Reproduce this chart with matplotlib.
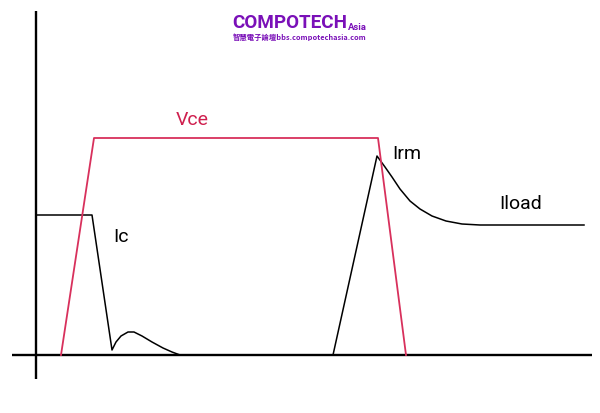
import matplotlib
matplotlib.use("Agg")
import matplotlib.pyplot as plt

# Waveform points (pixel-space units: x right, y down)
vce_x = [61, 94, 378, 406]
vce_y = [356, 139, 139, 356]

ic_x = [36, 92, 112, 116, 121, 128, 134, 142, 152, 163, 172, 180]
ic_y = [216, 216, 351, 343, 337, 333, 333, 337, 343, 349, 353, 356]

irm_x = [333, 377, 385, 392, 400, 410, 420, 432, 446, 462, 480, 584]
irm_y = [356, 157, 168, 178, 190, 202, 210, 217, 222, 225, 226, 226]

labels = ["Vce", "Ic", "Irm", "Iload"]
label_x = [192, 121, 407, 521]
label_y = [120, 237, 154, 204]
label_colors = ["#cf1f4e", "black", "black", "black"]

RED = "#d8305c"

fig = plt.figure(figsize=(6.0, 4.14), dpi=100)
ax = fig.add_axes([0, 0, 1, 1])
ax.set_xlim(0, 600)
ax.set_ylim(414, 0)
ax.axis("off")

label_font = ["Roboto", "DejaVu Sans"]

# axes lines
ax.plot([36, 36], [12, 380], color="black", lw=1.7, solid_capstyle="butt")
ax.plot([12, 592], [356, 356], color="black", lw=1.7, solid_capstyle="butt")

ax.plot(ic_x, ic_y, color="black", lw=1.1)
ax.plot(irm_x, irm_y, color="black", lw=1.1)
ax.plot(vce_x, vce_y, color=RED, lw=1.3)

for t, x, y, c in zip(labels, label_x, label_y, label_colors):
    ax.text(x, y, t, color=c, fontsize=14, family=label_font,
            ha="center", va="center")

# logo
purple = "#7a10b8"
main = ax.text(232, 28, "COMPOTECH", color=purple, fontsize=13.6,
               fontweight="bold", family=["Roboto", "DejaVu Sans"],
               ha="left", va="baseline")
ax.annotate("Asia", xy=(1, 0), xycoords=main, xytext=(0.5, 0),
            textcoords="offset points", color=purple, fontsize=6.8,
            fontweight="bold", family=["Roboto", "DejaVu Sans"],
            ha="left", va="bottom")
ax.text(300, 37, "智慧電子論壇bbs.compotechasia.com", color=purple, fontsize=5.3,
        fontweight="bold", family=["Noto Sans CJK TC", "DejaVu Sans"],
        ha="center", va="center")

fig.savefig("out.png", dpi=100)
